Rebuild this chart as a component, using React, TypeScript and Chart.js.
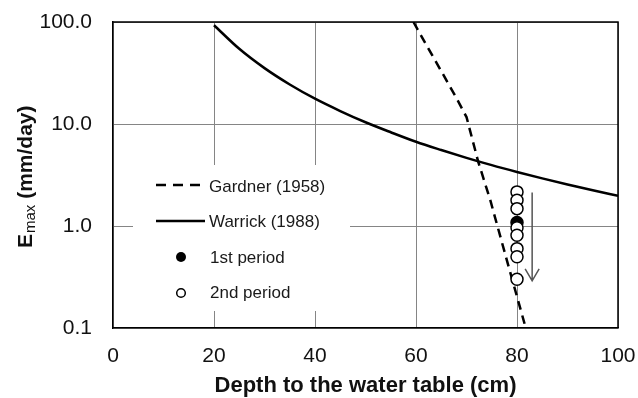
import { useEffect, useRef } from "react";
import { Chart, registerables } from "chart.js";

Chart.register(...registerables);

// Maximum evaporation rate vs. depth to the water table
const warrickDepth = [20, 25, 30, 35, 40, 45, 50, 55, 60, 65, 70, 75, 80, 85, 90, 95, 100];
const warrickRate = [93, 54.6, 35.3, 24.4, 17.7, 13.4, 10.4, 8.3, 6.7, 5.56, 4.66, 3.95, 3.39, 2.93, 2.55, 2.24, 1.98];

const gardnerDepth = [59.5, 62, 65, 68, 70, 72.3, 74.7, 78, 81.5];
const gardnerRate = [100, 60, 33, 18, 11.7, 4.3, 1.8, 0.46, 0.11];

const firstPeriodDepth = [80];
const firstPeriodRate = [1.08];

const secondPeriodDepth = [80, 80, 80, 80, 80, 80, 80, 80];
const secondPeriodRate = [2.16, 1.79, 1.48, 0.96, 0.81, 0.6, 0.5, 0.3];

const yTickValues = [0.1, 1, 10, 100];

// Downward trend arrow beside the observations
const arrowDepth = 83;
const arrowFromRate = 2.13;
const arrowToRate = 0.29;

const FONT = "'Liberation Sans', Arial, sans-serif";

const toPoints = (xs: number[], ys: number[]) => xs.map((x, i) => ({ x, y: ys[i] }));

const decorations = {
  id: "decorations",
  beforeDatasetsDraw(chart: any) {
    const { ctx, chartArea } = chart;
    const ds = chart.data.datasets;
    ctx.save();
    // legend panel (covers the grid)
    ctx.fillStyle = "#fff";
    ctx.fillRect(133, 165, 217, 146);

    const lineX0 = 156;
    const lineX1 = 205;
    const markX = 181;
    const textX = 209;
    ctx.font = `17px ${FONT}`;
    ctx.fillStyle = "#1a1a1a";
    ctx.textBaseline = "middle";
    ctx.textAlign = "left";

    // Gardner
    ctx.strokeStyle = "#000";
    ctx.lineWidth = 2.5;
    ctx.setLineDash([10, 7]);
    ctx.beginPath();
    ctx.moveTo(lineX0, 185);
    ctx.lineTo(lineX1, 185);
    ctx.stroke();
    ctx.setLineDash([]);
    ctx.fillText(ds[3].label, textX, 187);

    // Warrick
    ctx.beginPath();
    ctx.moveTo(lineX0, 221);
    ctx.lineTo(lineX1, 221);
    ctx.stroke();
    ctx.fillText(ds[2].label, textX, 222);

    // 1st period
    ctx.beginPath();
    ctx.arc(markX, 257, 5, 0, Math.PI * 2);
    ctx.fillStyle = "#000";
    ctx.fill();
    ctx.fillStyle = "#1a1a1a";
    ctx.fillText(ds[1].label, textX + 1, 258);

    // 2nd period
    ctx.beginPath();
    ctx.arc(markX, 293, 4.3, 0, Math.PI * 2);
    ctx.fillStyle = "#fff";
    ctx.fill();
    ctx.lineWidth = 1.5;
    ctx.strokeStyle = "#000";
    ctx.stroke();
    ctx.fillStyle = "#1a1a1a";
    ctx.fillText(ds[0].label, textX + 1, 293);

    // top and right frame
    ctx.strokeStyle = "#000";
    ctx.lineWidth = 1.5;
    ctx.beginPath();
    ctx.moveTo(chartArea.left, chartArea.top);
    ctx.lineTo(chartArea.right, chartArea.top);
    ctx.lineTo(chartArea.right, chartArea.bottom);
    ctx.stroke();
    ctx.restore();
  },
  afterDatasetsDraw(chart: any) {
    const { ctx, scales } = chart;
    const x = scales.x.getPixelForValue(arrowDepth);
    const y0 = scales.y.getPixelForValue(arrowFromRate);
    const y1 = scales.y.getPixelForValue(arrowToRate);
    ctx.save();
    ctx.strokeStyle = "#555";
    ctx.lineWidth = 1.5;
    ctx.beginPath();
    ctx.moveTo(x, y0);
    ctx.lineTo(x, y1);
    ctx.moveTo(x - 7, y1 - 12);
    ctx.lineTo(x, y1);
    ctx.lineTo(x + 7, y1 - 12);
    ctx.stroke();
    ctx.restore();
  },
  afterDraw(chart: any) {
    const { ctx, chartArea } = chart;
    ctx.save();
    ctx.fillStyle = "#111";
    // x-axis title
    ctx.font = `bold 22px ${FONT}`;
    ctx.textAlign = "center";
    ctx.textBaseline = "middle";
    ctx.fillText("Depth to the water table (cm)", (chartArea.left + chartArea.right) / 2, 386);

    // y-axis title with subscript
    ctx.translate(32, 248);
    ctx.rotate(-Math.PI / 2);
    ctx.textAlign = "left";
    ctx.textBaseline = "alphabetic";
    ctx.font = `bold 21px ${FONT}`;
    ctx.fillText("E", 0, 0);
    let off = ctx.measureText("E").width + 1;
    ctx.font = `15px ${FONT}`;
    ctx.fillText("max", off, 3);
    off += ctx.measureText("max").width;
    ctx.font = `bold 21px ${FONT}`;
    ctx.fillText(" (mm/day)", off, 0);
    ctx.restore();
  },
};

export default function App() {
  const ref = useRef<HTMLCanvasElement>(null);

  useEffect(() => {
    const chart = new Chart(ref.current as HTMLCanvasElement, {
      type: "scatter",
      data: {
        datasets: [
          {
            label: "2nd period",
            data: toPoints(secondPeriodDepth, secondPeriodRate),
            pointRadius: 6,
            pointBackgroundColor: "#fff",
            pointBorderColor: "#000",
            pointBorderWidth: 1.5,
            showLine: false,
            order: 0,
          },
          {
            label: "1st period",
            data: toPoints(firstPeriodDepth, firstPeriodRate),
            pointRadius: 6,
            pointBackgroundColor: "#000",
            pointBorderColor: "#000",
            pointBorderWidth: 1.5,
            showLine: false,
            order: 1,
          },
          {
            label: "Warrick (1988)",
            data: toPoints(warrickDepth, warrickRate),
            showLine: true,
            borderColor: "#000",
            borderWidth: 2.5,
            pointRadius: 0,
            cubicInterpolationMode: "monotone",
            order: 2,
          },
          {
            label: "Gardner (1958)",
            data: toPoints(gardnerDepth, gardnerRate),
            showLine: true,
            borderColor: "#000",
            borderWidth: 2.5,
            borderDash: [9, 6],
            pointRadius: 0,
            tension: 0,
            order: 3,
          },
        ] as any,
      },
      options: {
        responsive: false,
        animation: false,
        layout: { padding: { top: 22, right: 20, left: 0, bottom: 0 } },
        plugins: {
          legend: { display: false },
          tooltip: { enabled: false },
        },
        scales: {
          x: {
            type: "linear",
            min: 0,
            max: 100,
            ticks: {
              stepSize: 20,
              color: "#111",
              font: { family: FONT, size: 21 },
              padding: 16,
            },
            grid: { color: "#858585", lineWidth: 1, drawTicks: false },
            border: { color: "#000", width: 1.5 },
            afterFit: (s: any) => {
              s.height = 70;
              s.paddingLeft = 0;
              s.paddingRight = 0;
            },
          },
          y: {
            type: "logarithmic",
            min: 0.1,
            max: 100,
            afterBuildTicks: (s: any) => {
              s.ticks = yTickValues.map((v) => ({ value: v }));
            },
            ticks: {
              color: "#111",
              font: { family: FONT, size: 21 },
              padding: 21,
              callback: (v: any) => Number(v).toFixed(1),
            },
            grid: { color: "#858585", lineWidth: 1, drawTicks: false },
            border: { color: "#000", width: 1.5 },
            afterFit: (s: any) => {
              s.width = 113;
              s.paddingTop = 0;
              s.paddingBottom = 0;
            },
          },
        },
      },
      plugins: [decorations],
    });
    return () => chart.destroy();
  }, []);

  return (
    <div style={{ position: "fixed", left: 0, top: 0, width: 638, height: 398, background: "#fff" }}>
      <canvas ref={ref} width={638} height={398} style={{ display: "block", width: 638, height: 398 }} />
    </div>
  );
}
